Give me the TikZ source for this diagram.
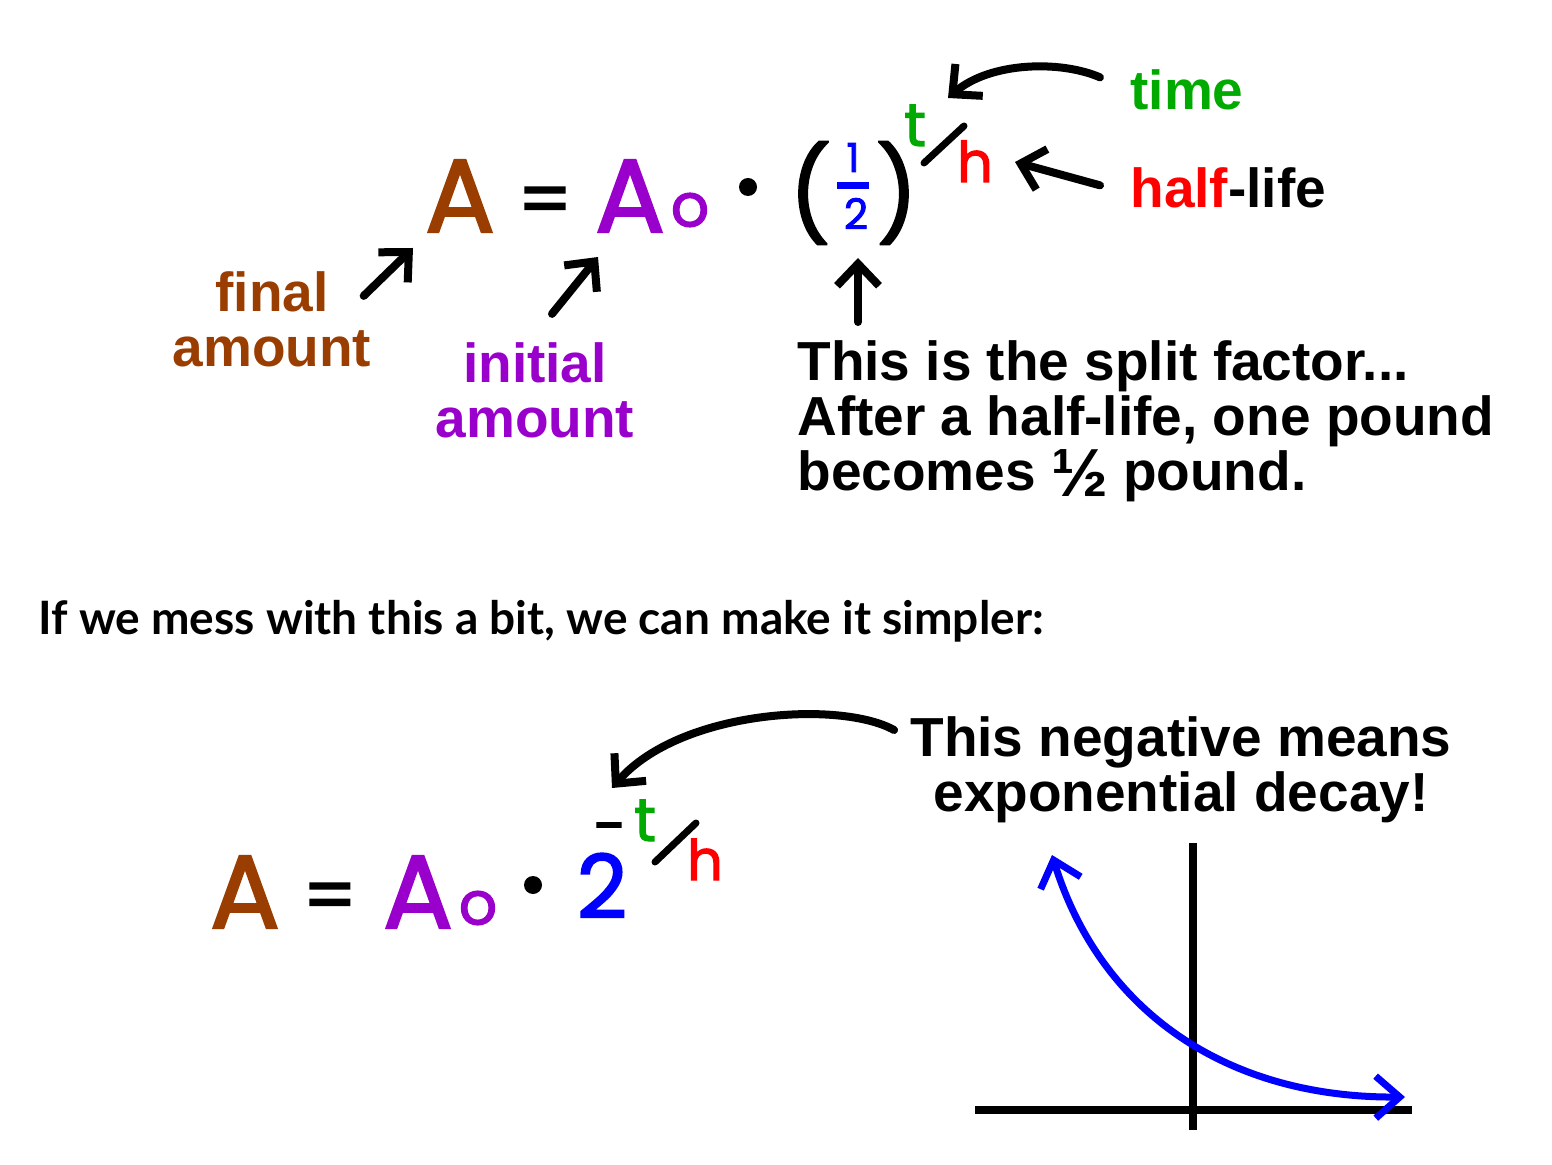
\documentclass[tikz,border=0pt]{standalone}
\usepackage{fontspec}
\setmainfont{Liberation Sans}
\newfontfamily\handfont[FakeBold=2]{Poppins}
\newfontfamily\leadfont{Lato}
\usetikzlibrary{arrows.meta}
\definecolor{finalbrown}{RGB}{153,61,0}
\definecolor{initpurple}{RGB}{153,0,204}
\definecolor{timegreen}{RGB}{0,170,0}
\definecolor{halfred}{RGB}{255,0,0}
\definecolor{factorblue}{RGB}{0,0,255}
\tikzset{
  note/.style={font=\fontsize{27.5}{27.5}\selectfont\bfseries, inner sep=0pt},
  hand/.style={font=\handfont\fontsize{#1}{#1}\selectfont, inner sep=0pt},
  dotmark/.style={circle, fill, inner sep=0pt, minimum size=9pt},
  pointer/.style={line width=4pt, line cap=round, line join=round, -{Straight Barb[length=11pt,width=21pt]}},
}
\begin{document}
\begin{tikzpicture}[x=0.5pt, y=-0.5pt]
    \useasboundingbox (0,0) rectangle (1552,1165);
    % first formula
    \node[hand=52, finalbrown, anchor=base] (Afin) at (460,232) {A};
    \node[hand=38, anchor=base] (eq) at (545,226) {=};
    \node[hand=52, initpurple, anchor=base] (Azero) at (630,232) {A};
    \node[hand=30, initpurple] (zero) at (690,210) {o};
    \node[dotmark] (dot) at (748,187) {};
    \node[hand=46] (lpar) at (810,193) {(};
    \node[hand=46] (rpar) at (897,193) {)};
    \node[hand=20, factorblue, anchor=base] (one) at (853,172) {1};
    \draw[factorblue, line width=3.5pt] (837,186) -- (869,186);
    \node[hand=21, factorblue, anchor=base] (two) at (856,229) {2};
    \node[hand=30, timegreen, anchor=base] (tnum) at (915,146) {t};
    \draw[line width=3.5pt, line cap=round] (924,163) -- (964,126);
    \node[hand=28, halfred, anchor=base] (hden) at (975,182) {h};
    % labels
    \node[note, timegreen, anchor=base west] (time) at (1130,110) {time};
    \node[note, anchor=base west] (halflife) at (1130,208) {\textcolor{halfred}{half}-life};
    \node[note, finalbrown, align=center] (final) at (272,319) {final\\amount};
    \node[note, initpurple, align=center] (initial) at (535,390) {initial\\amount};
    \node[note, align=left, anchor=north west] (split) at (797,340)
        {This is the split factor...\\After a half-life, one pound\\becomes \smash{\raisebox{-3pt}{\fontsize{34}{34}\selectfont ½}} pound.};
    % pointers
    \coordinate (timetip) at (948,98);
    \coordinate (halftip) at (1015,162);
    \coordinate (fintip) at (413,248);
    \coordinate (inittip) at (598,257);
    \coordinate (splittip) at (858,258);
    \draw[pointer] ([shift={(-30,-13)}]time.west) .. controls (1060,60) and (990,62) .. (timetip);
    \draw[pointer] ([shift={(-30,-3)}]halflife.west) -- (halftip);
    \draw[pointer] ([shift={(-8,25)}]final.north east) -- (fintip);
    \draw[pointer] ([shift={(17,-28)}]initial.north) -- (inittip);
    \draw[pointer] ([shift={(61,-18)}]split.north west) -- (splittip);
    % middle sentence
    \node[font=\leadfont\bfseries\fontsize{23}{23}\selectfont, inner sep=0pt, anchor=base west] (lead) at (38,634)
        {If we mess with this a bit, we can make it simpler:};
    % second formula
    \node[hand=52, finalbrown, anchor=base] (Afin2) at (245,928) {A};
    \node[hand=38, anchor=base] (eq2) at (330,922) {=};
    \node[hand=52, initpurple, anchor=base] (Azero2) at (418,928) {A};
    \node[hand=30, initpurple] (zero2) at (478,908) {o};
    \node[dotmark] (dot2) at (533,885) {};
    \node[hand=44, factorblue, anchor=base] (two2) at (602,918) {2};
    \node[hand=30, anchor=base] (minus) at (610,847) {-};
    \node[hand=30, timegreen, anchor=base] (tnum2) at (645,841) {t};
    \draw[line width=3.5pt, line cap=round] (655,862) -- (696,823);
    \node[hand=28, halfred, anchor=base] (hden2) at (705,880) {h};
    % decay note
    \node[note, align=center, anchor=north] (negative) at (1181,716) {This negative means\\exponential decay!};
    \coordinate (negtip) at (612,788);
    \draw[pointer] ([shift={(-16,14)}]negative.north west) .. controls (840,700) and (680,710) .. (negtip);
    % axes
    \draw[line width=4pt] (975,1110) -- (1412,1110);
    \draw[line width=4pt] (1193,843) -- (1193,1130);
    % decay curve
    \draw[factorblue, line width=3.5pt, line cap=round, {Straight Barb[length=12pt,width=21pt]}-{Straight Barb[length=12pt,width=21pt]}]
        (1052,855) .. controls (1100,1010) and (1225,1098) .. (1405,1097);
\end{tikzpicture}
\end{document}
